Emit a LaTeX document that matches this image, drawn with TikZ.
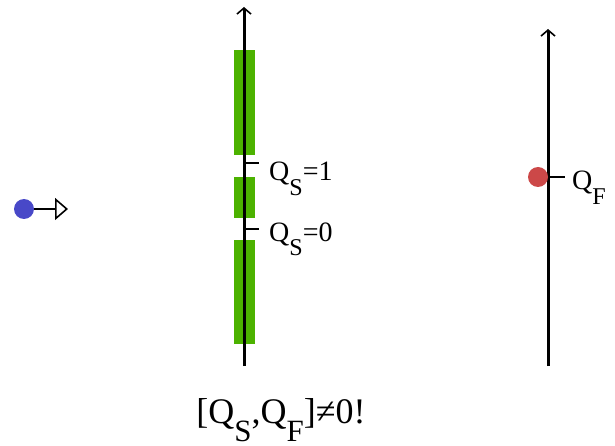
\documentclass[tikz,border=0pt]{standalone}
\usepackage{fontspec}
\setmainfont{Liberation Serif}
\usetikzlibrary{arrows.meta}
\definecolor{barGreen}{RGB}{76,178,0}
\definecolor{dotBlue}{RGB}{72,72,200}
\definecolor{dotRed}{RGB}{204,72,72}
\newcommand{\lowsub}[1]{\raisebox{-0.52em}{\scalebox{0.86}{#1}}}
\tikzset{
  axis/.style={line width=3pt, -{Straight Barb[length=6pt,width=14pt,line width=1.6pt]}},
  tick/.style={line width=1.6pt},
  lbl/.style={anchor=base west, inner sep=0pt, font=\fontsize{28}{32}\selectfont}
}
\begin{document}
\begin{tikzpicture}[x=1pt, y=-1pt]
  \useasboundingbox (0,0) rectangle (615,446);
  % gruene Bereiche
  \fill[barGreen] (234,50) rectangle (255,155);
  \fill[barGreen] (234,177) rectangle (255,218);
  \fill[barGreen] (234,240) rectangle (255,344);
  % Achsen
  \draw[axis] (244,366) -- (244,7);
  \draw[axis] (548,366) -- (548,29);
  % Markierungen
  \draw[tick] (244,163) -- (259,163);
  \draw[tick] (244,229) -- (259,229);
  \draw[tick] (548,177) -- (565,177);
  \node[lbl] (qs1) at (269,181) {Q\lowsub{S}=1};
  \node[lbl] (qs0) at (269,241) {Q\lowsub{S}=0};
  \node[lbl] (qf) at (572,190) {Q\lowsub{F}};
  % Punkte
  \fill[dotRed] (538,177) circle (10);
  \fill[dotBlue] (24,209) circle (10);
  \draw[line width=1.6pt, -{Triangle[open,length=13pt,width=22pt,line width=1.6pt]}] (34,209) -- (68,209);
  \node[anchor=base, inner sep=0pt, font=\fontsize{36}{40}\selectfont] (comm) at (281,423) {[Q\lowsub{S},Q\lowsub{F}]≠0!};
\end{tikzpicture}
\end{document}
